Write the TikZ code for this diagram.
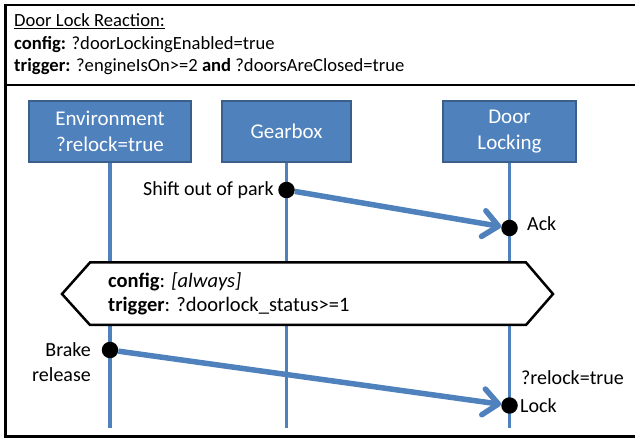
\documentclass[tikz,border=0pt]{standalone}
\usepackage{fontspec}
\setmainfont{Carlito}
\usetikzlibrary{arrows.meta}
\definecolor{lifeblue}{HTML}{4F81BD}
\definecolor{boxedge}{HTML}{3A5F8B}
\tikzset{
  actor/.style={draw=boxedge, line width=2pt, fill=lifeblue, text=white,
    font=\fontsize{21}{26}\selectfont, align=center, inner sep=0pt,
    minimum height=61pt},
  lifeline/.style={draw=lifeblue, line width=3.3pt},
  msg/.style={draw=lifeblue, line width=5.5pt,
    -{Straight Barb[length=15pt,width=26pt,round]}},
  event/.style={circle, fill=black, minimum size=16.5pt, inner sep=0pt},
  lbl/.style={font=\fontsize{20}{25}\selectfont, inner sep=0pt},
  condtext/.style={font=\fontsize{20.5}{25}\selectfont, inner sep=0pt, anchor=west},
  head/.style={font=\fontsize{18.6}{23}\selectfont, anchor=west, inner sep=0pt},
  frameline/.style={line width=2.8pt},
}
\begin{document}
\begin{tikzpicture}[x=1pt,y=-1pt]
\useasboundingbox (0,0) rectangle (635,438);
% outer frame and header divider
\draw[frameline] (5.5,437) -- (5.5,5) -- (640,5);
\draw[frameline] (5.5,85) -- (640,85);
\draw[frameline] (4.1,436.3) -- (640,436.3);

% header
\node[head] (title) at (14,21) {\underline{Door Lock Reaction:}};
\node[head] (hcfg) at (14,45) {\textbf{config:} ?doorLockingEnabled=true};
\node[head] (htrg) at (14,67) {\textbf{trigger:} ?engineIsOn>=2 \textbf{and} ?doorsAreClosed=true};

% actors
\node[actor, minimum width=162pt] (env) at (110,131.5) {Environment\\?relock=true};
\node[actor, minimum width=129pt] (gear) at (286.5,131.5) {Gearbox};
\node[actor, minimum width=133pt] (door) at (509.5,131.5) {Door\\Locking};

% lifelines
\coordinate (envend) at (110,428);
\coordinate (gearend) at (286.5,428);
\coordinate (doorend) at (509.5,428);
\draw[lifeline] (env.south) -- (envend);
\draw[lifeline] (gear.south) -- (gearend);
\draw[lifeline] (door.south) -- (doorend);

% first exchange
\node[event] (shift) at (286.5,190) {};
\node[event] (ack) at (509.5,228) {};
\node[lbl, anchor=east] (shiftl) at (274,190) {Shift out of park};
\node[lbl, anchor=west] (ackl) at (527,224) {Ack};
\draw[msg] (shift) -- (ack);

% condition hexagon
\draw[line width=2.5pt, fill=white, line join=miter]
  (62,294) -- (90,262.5) -- (526,262.5) -- (553,294) -- (526,325) -- (90,325) -- cycle;
\node[condtext] (ccfg) at (108,281.5) {\textbf{config}: \textit{[always]}};
\node[condtext] (ctrg) at (108,306.5) {\textbf{trigger}: ?doorlock\_status>=1};

% second exchange
\node[event] (brake) at (110,350) {};
\node[event] (lock) at (509.5,405.5) {};
\node[lbl, anchor=east, align=right] (brakel) at (91,362.5) {Brake\\release};
\node[lbl, anchor=west] (relock) at (521,378) {?relock=true};
\node[lbl, anchor=west] (lockl) at (520,405.5) {Lock};
\draw[msg] (brake) -- (lock);
\end{tikzpicture}
\end{document}
